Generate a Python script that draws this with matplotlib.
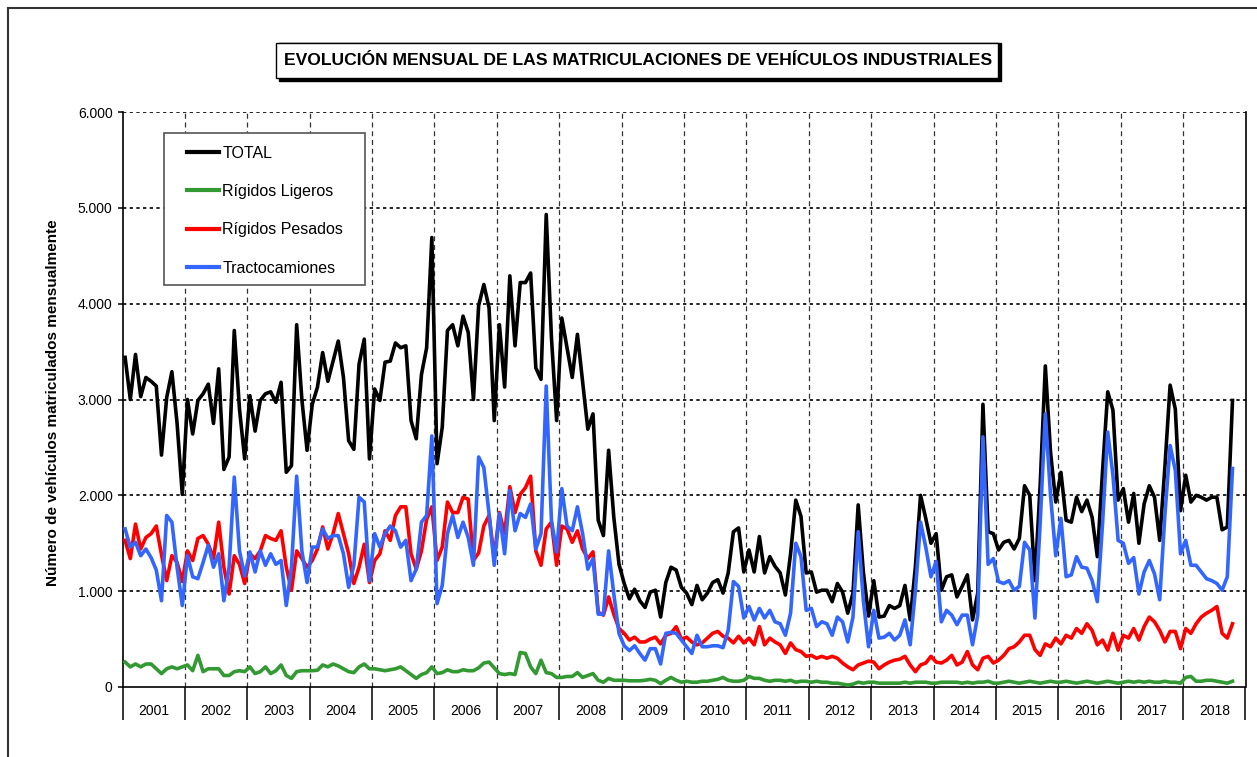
import matplotlib
matplotlib.use("Agg")
import matplotlib.pyplot as plt
import numpy as np
from matplotlib.patches import Rectangle
from matplotlib.lines import Line2D

plt.rcParams['font.family'] = ['Liberation Sans', 'DejaVu Sans']

# Monthly registrations, Jan 2001 - Oct 2018 (one row per year)
total = [
    3440, 3000, 3470, 3030, 3230, 3190, 3140, 2420, 3020, 3290, 2750, 2010,
    3000, 2640, 2990, 3060, 3160, 2750, 3320, 2270, 2400, 3720, 2900, 2380,
    3040, 2670, 2990, 3060, 3080, 2970, 3180, 2240, 2310, 3780, 3000, 2470,
    2950, 3130, 3490, 3190, 3400, 3610, 3230, 2570, 2480, 3370, 3630, 2380,
    3110, 2990, 3390, 3400, 3590, 3540, 3560, 2780, 2590, 3260, 3540, 4690,
    2330, 2710, 3720, 3780, 3560, 3870, 3700, 3000, 3980, 4200, 3960, 2780,
    3780, 3130, 4290, 3560, 4220, 4220, 4320, 3330, 3210, 4930, 3650, 2780,
    3850, 3540, 3230, 3680, 3190, 2690, 2850, 1740, 1580, 2470, 1770, 1280,
    1080, 920, 1020, 900, 830, 990, 1010, 730, 1090, 1250, 1220, 1040,
    980, 860, 1060, 910, 980, 1090, 1120, 980, 1190, 1620, 1660, 1200,
    1430, 1200, 1570, 1190, 1360, 1260, 1190, 960, 1390, 1950, 1780, 1190,
    1200, 990, 1010, 1010, 890, 1080, 990, 770, 980, 1900, 1200, 740,
    1110, 730, 740, 850, 820, 850, 1060, 700, 1250, 2000, 1760, 1500,
    1600, 1010, 1150, 1170, 940, 1050, 1170, 700, 980, 2950, 1620, 1600,
    1430, 1510, 1530, 1440, 1550, 2100, 2000, 1110, 2100, 3350, 2450, 1930,
    2240, 1740, 1720, 1980, 1830, 1950, 1770, 1360, 2250, 3080, 2890, 1950,
    2070, 1720, 2020, 1500, 1910, 2100, 1980, 1530, 2300, 3150, 2900, 1840,
    2210, 1930, 2000, 1980, 1950, 1980, 1980, 1640, 1670, 2990,
]

ligeros = [
    260, 210, 240, 210, 240, 240, 190, 140, 190, 210, 190, 210,
    230, 170, 330, 160, 190, 190, 190, 120, 120, 160, 170, 160,
    210, 140, 160, 210, 140, 170, 230, 120, 90, 160, 170, 170,
    170, 175, 230, 210, 240, 220, 190, 160, 150, 210, 240, 190,
    190, 180, 170, 180, 190, 210, 170, 130, 90, 130, 150, 210,
    140, 150, 180, 160, 160, 180, 170, 170, 200, 250, 260, 200,
    140, 130, 140, 130, 360, 350, 210, 140, 280, 150, 140, 100,
    100, 110, 110, 150, 100, 120, 140, 70, 50, 90, 70, 70,
    70, 65, 65, 65, 70, 80, 70, 35, 70, 100, 70, 50,
    60, 50, 50, 60, 60, 70, 80, 100, 70, 60, 60, 70,
    110, 90, 90, 70, 60, 70, 70, 60, 70, 50, 60, 60,
    50, 60, 50, 50, 40, 40, 30, 20, 30, 50, 40, 50,
    50, 40, 40, 40, 40, 40, 50, 40, 50, 50, 50, 40,
    40, 50, 50, 50, 50, 40, 50, 40, 50, 50, 60, 40,
    40, 50, 60, 50, 40, 50, 60, 50, 40, 50, 60, 50,
    50, 60, 50, 40, 50, 60, 50, 40, 50, 60, 50, 40,
    50, 60, 50, 60, 50, 60, 50, 50, 60, 50, 50, 40,
    100, 110, 60, 60, 70, 70, 60, 50, 40, 60,
]

pesados = [
    1530, 1340, 1700, 1440, 1560, 1600, 1680, 1380, 1110, 1370, 1300, 1100,
    1420, 1320, 1550, 1580, 1490, 1340, 1720, 1250, 970, 1370, 1280, 1080,
    1390, 1340, 1420, 1580, 1550, 1530, 1630, 1250, 1010, 1420, 1340, 1250,
    1320, 1440, 1670, 1440, 1600, 1810, 1600, 1390, 1080, 1250, 1490, 1090,
    1320, 1390, 1630, 1530, 1790, 1880, 1880, 1390, 1230, 1420, 1750, 1880,
    1320, 1460, 1930, 1820, 1820, 1980, 1960, 1320, 1400, 1680, 1790, 1350,
    1820, 1600, 2090, 1820, 2010, 2080, 2200, 1420, 1270, 1650, 1720, 1270,
    1680, 1650, 1510, 1630, 1440, 1340, 1410, 780, 750, 940, 760, 610,
    560, 490, 520, 470, 470, 500, 520, 450, 540, 560, 630, 500,
    520, 470, 440, 460, 510, 560, 580, 530, 510, 460, 530, 460,
    510, 440, 630, 440, 510, 470, 440, 350, 460, 390, 370, 320,
    330, 300, 320, 300, 320, 300, 250, 210, 180, 230, 250, 270,
    260, 190, 230, 260, 280, 290, 320, 230, 160, 230, 250, 320,
    260, 250, 280, 330, 230, 260, 370, 230, 180, 300, 320, 250,
    280, 330, 400, 420, 470, 540, 540, 390, 330, 450, 420, 510,
    450, 540, 510, 610, 560, 660, 590, 440, 490, 385, 560, 385,
    540, 510, 610, 490, 630, 730, 680, 590, 470, 580, 580, 400,
    610, 560, 660, 730, 770, 800, 840, 560, 510, 660,
]

tracto = [
    1650, 1460, 1510, 1370, 1440, 1350, 1220, 900, 1790, 1720, 1250, 850,
    1370, 1150, 1130, 1300, 1480, 1250, 1390, 900, 1250, 2190, 1420, 1160,
    1410, 1200, 1420, 1270, 1390, 1280, 1320, 850, 1250, 2200, 1420, 1090,
    1460, 1460, 1650, 1550, 1580, 1580, 1390, 1040, 1270, 1980, 1930, 1110,
    1600, 1460, 1600, 1680, 1630, 1460, 1530, 1110, 1230, 1720, 1790, 2620,
    870, 1060, 1600, 1790, 1560, 1720, 1560, 1270, 2400, 2290, 1810, 1270,
    1810, 1390, 2050, 1630, 1810, 1770, 1910, 1440, 1600, 3140, 1740, 1410,
    2070, 1680, 1630, 1880, 1600, 1230, 1340, 760, 760, 1420, 970, 560,
    430, 380, 430, 350, 280, 400, 400, 240, 560, 570, 560, 490,
    420, 350, 540, 420, 420, 430, 430, 410, 590, 1100, 1050, 720,
    840, 700, 820, 720, 800, 680, 660, 540, 770, 1500, 1360, 800,
    820, 630, 680, 660, 540, 730, 680, 470, 730, 1620, 900, 420,
    800, 510, 520, 560, 490, 540, 700, 440, 1000, 1720, 1460, 1150,
    1310, 680, 800, 750, 650, 750, 750, 440, 750, 2610, 1280, 1340,
    1100, 1080, 1110, 1010, 1050, 1510, 1430, 720, 1700, 2850, 2000, 1370,
    1760, 1150, 1170, 1360, 1250, 1240, 1110, 890, 1700, 2660, 2210, 1530,
    1500, 1290, 1350, 970, 1200, 1320, 1180, 910, 1800, 2520, 2260, 1390,
    1530, 1270, 1270, 1200, 1130, 1110, 1080, 1010, 1150, 2280,
]

years = [str(y) for y in range(2001, 2019)]
series_names = ["TOTAL", "Rígidos Ligeros", "Rígidos Pesados", "Tractocamiones"]
colors = ["#000000", "#339933", "#FF0000", "#3366FF"]

W, H = 1257, 757
fig = plt.figure(figsize=(W / 100, H / 100), dpi=100)
ax = fig.add_axes([122.5 / W, 70 / H, 1123 / W, 575 / H])

x = np.arange(len(total)) + 0.5
for name, vals, c in zip(series_names, [total, ligeros, pesados, tracto], colors):
    ax.plot(x, vals, color=c, lw=2.6, label=name, zorder=3)

ax.set_xlim(0, 12 * len(years))
ax.set_ylim(0, 6000)

# gridlines
for v in range(1000, 6001, 1000):
    ax.axhline(v, color="black", lw=1.2, linestyle=(0, (2, 2)), zorder=1)
for k in range(1, len(years)):
    ax.axvline(12 * k, color="#333333", lw=0.9, linestyle=(0, (4, 3)), zorder=1)

# axes styling
ax.spines["top"].set_visible(False)
for s in ["left", "right", "bottom"]:
    ax.spines[s].set_linewidth(1.2)

ax.set_yticks(range(0, 6001, 1000))
ax.set_yticklabels([f"{v:,}".replace(",", ".") for v in range(0, 6001, 1000)], fontsize=10)
ax.tick_params(axis="y", length=3.6, width=1.1, pad=3.5)

ax.set_xticks(np.arange(0, 12 * len(years) + 1, 12))
ax.set_xticklabels([])
ax.set_xticks(np.arange(6, 12 * len(years), 12), minor=True)
ax.set_xticklabels(years, minor=True, fontsize=10)
ax.tick_params(axis="x", which="major", length=24, width=1.1, direction="out")
ax.tick_params(axis="x", which="minor", length=0, pad=12)

ax.set_ylabel("Número de vehículos matriculados mensualmente", fontsize=11, fontweight="bold")
ax.yaxis.set_label_coords((60 - 122.5) / 1123, 0.495)

# legend with its own box
box = Rectangle((164 / W, 1 - 285 / H), 201 / W, 152 / H, transform=fig.transFigure,
                facecolor="white", edgecolor="#555555", lw=1.2, zorder=4)
ax.add_patch(box)
leg = ax.legend(loc="upper left", bbox_to_anchor=((187 - 122.5) / 1123, (687 - 145.5) / 575),
                frameon=False, fontsize=11.5, borderpad=0, borderaxespad=0,
                handlelength=2.0, handletextpad=0.2, labelspacing=1.47)
for h in leg.get_lines():
    h.set_linewidth(3)
leg.set_zorder(5)

# title box with shadow
fig.patches.append(Rectangle((279 / W, 1 - 81 / H), 722 / W, 38 / H, transform=fig.transFigure,
                             facecolor="black", edgecolor="black", zorder=1))
fig.patches.append(Rectangle((276 / W, 1 - 78 / H), 722 / W, 35 / H, transform=fig.transFigure,
                             facecolor="white", edgecolor="black", lw=1, zorder=2))
fig.text(638 / W, 1 - 60.5 / H,
         "EVOLUCIÓN MENSUAL DE LAS MATRICULACIONES DE VEHÍCULOS INDUSTRIALES",
         ha="center", va="center", fontsize=12.6, fontweight="bold", zorder=3)

# outer chart frame (left and top edges visible)
fig.add_artist(Line2D([8 / W, 8 / W], [0, 1 - 8 / H], transform=fig.transFigure, color="#333333", lw=1.5))
fig.add_artist(Line2D([8 / W, 1], [1 - 8 / H, 1 - 8 / H], transform=fig.transFigure, color="#333333", lw=1.5))

fig.savefig("out.png", dpi=100)
